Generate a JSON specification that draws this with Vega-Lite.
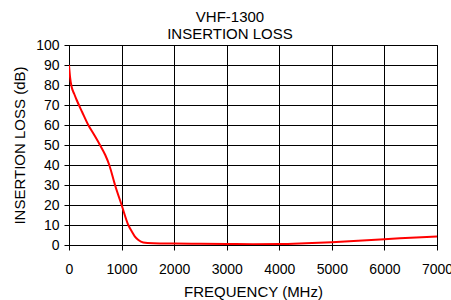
{
  "$schema": "https://vega.github.io/schema/vega-lite/v6.json",
  "autosize": "none",
  "padding": {"left": 69, "top": 45, "right": 14, "bottom": 55},
  "width": 368,
  "height": 200,
  "background": "white",
  "title": {
    "text": ["VHF-1300", "INSERTION LOSS"],
    "font": "Liberation Sans",
    "fontSize": 15,
    "fontWeight": "normal",
    "color": "black",
    "lineHeight": 17,
    "anchor": "middle",
    "dx": -23,
    "offset": -3.5
  },
  "config": {
    "view": {"stroke": "black", "strokeWidth": 1},
    "axis": {
      "labelFont": "Liberation Sans",
      "titleFont": "Liberation Sans",
      "labelFontSize": 14,
      "titleFontSize": 15,
      "titleFontWeight": "normal",
      "labelColor": "black",
      "titleColor": "black",
      "domainColor": "black",
      "tickColor": "black",
      "gridColor": "black",
      "gridOpacity": 1,
      "gridWidth": 1,
      "tickSize": 5
    }
  },
  "data": {
    "values": [
      {"f": 0, "loss": 90},
      {"f": 20, "loss": 84},
      {"f": 51, "loss": 79},
      {"f": 100, "loss": 75.5},
      {"f": 146, "loss": 72.5},
      {"f": 250, "loss": 66.5},
      {"f": 367, "loss": 60},
      {"f": 480, "loss": 55},
      {"f": 589, "loss": 50},
      {"f": 690, "loss": 45},
      {"f": 766, "loss": 40},
      {"f": 875, "loss": 30},
      {"f": 1001, "loss": 20},
      {"f": 1128, "loss": 10},
      {"f": 1200, "loss": 6.5},
      {"f": 1254, "loss": 4.2},
      {"f": 1320, "loss": 2.5},
      {"f": 1413, "loss": 1.3},
      {"f": 1600, "loss": 0.9},
      {"f": 2000, "loss": 0.7},
      {"f": 2500, "loss": 0.6},
      {"f": 3000, "loss": 0.5},
      {"f": 3500, "loss": 0.4},
      {"f": 4000, "loss": 0.5},
      {"f": 4500, "loss": 0.9},
      {"f": 5000, "loss": 1.4},
      {"f": 5500, "loss": 2.1},
      {"f": 6000, "loss": 2.9},
      {"f": 6500, "loss": 3.6},
      {"f": 7000, "loss": 4.3}
    ]
  },
  "mark": {"type": "line", "color": "#ff0000", "strokeWidth": 2, "interpolate": "monotone", "clip": true},
  "encoding": {
    "x": {
      "field": "f",
      "type": "quantitative",
      "scale": {"domain": [0, 7000], "nice": false},
      "axis": {"values": [0, 1000, 2000, 3000, 4000, 5000, 6000, 7000], "title": "FREQUENCY (MHz)", "titlePadding": 8, "labelPadding": 12, "format": "d", "labelFlush": false, "labelOverlap": false}
    },
    "y": {
      "field": "loss",
      "type": "quantitative",
      "scale": {"domain": [0, 100], "nice": false},
      "axis": {"values": [0, 10, 20, 30, 40, 50, 60, 70, 80, 90, 100], "title": "INSERTION LOSS (dB)", "titlePadding": 8, "labelPadding": 5, "labelFlush": false, "labelOverlap": false}
    }
  }
}
